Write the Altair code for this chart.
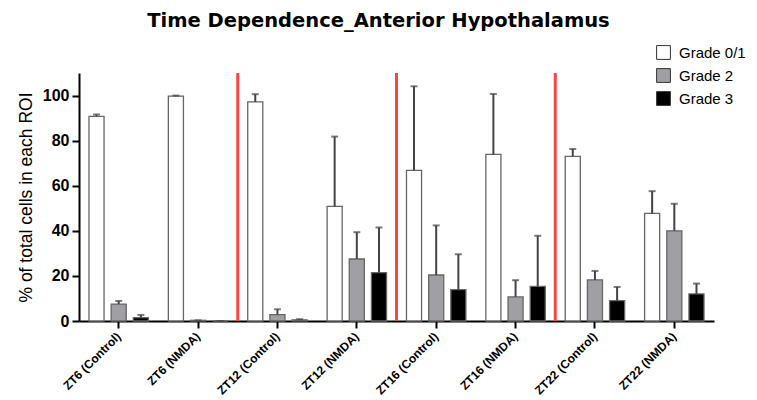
import altair as alt
import pandas as pd

groups = ["ZT6 (Control)", "ZT6 (NMDA)", "ZT12 (Control)", "ZT12 (NMDA)",
          "ZT16 (Control)", "ZT16 (NMDA)", "ZT22 (Control)", "ZT22 (NMDA)"]
grades = ["Grade 0/1", "Grade 2", "Grade 3"]

grade01 = [90.8, 99.7, 97.2, 50.8, 66.8, 73.9, 73.0, 47.7]
grade01_err = [0.8, 0.3, 3.4, 31.0, 37.3, 26.8, 3.3, 9.9]
grade2 = [7.5, 0.3, 2.8, 27.5, 20.4, 10.7, 18.2, 40.0]
grade2_err = [1.4, 0.0, 2.4, 11.9, 22.0, 7.4, 4.0, 12.0]
grade3 = [1.5, 0.0, 0.5, 21.5, 13.9, 15.4, 9.0, 12.0]
grade3_err = [1.2, 0.0, 0.3, 20.0, 15.7, 22.4, 6.1, 4.6]

dividers = ["ZT12 (Control)", "ZT16 (Control)", "ZT22 (Control)"]

rows = []
for i, g in enumerate(groups):
    for grade, vals, errs in [("Grade 0/1", grade01, grade01_err),
                              ("Grade 2", grade2, grade2_err),
                              ("Grade 3", grade3, grade3_err)]:
        rows.append(dict(group=g, grade=grade, value=vals[i], upper=vals[i] + errs[i]))
df = pd.DataFrame(rows)
div_df = pd.DataFrame({"group": dividers})

FONT = "Liberation Sans"

x = alt.X("group:N", sort=groups, title=None,
          scale=alt.Scale(paddingInner=0, paddingOuter=0),
          axis=alt.Axis(labelAngle=-45, labelAlign="right", labelBaseline="middle",
                        labelFontSize=12, labelFontWeight="bold", labelColor="black",
                        labelPadding=6, tickSize=7, tickWidth=2, tickColor="black",
                        domainColor="black", domainWidth=2, labelFont=FONT))
xoff = alt.XOffset("grade:N", sort=grades,
                   scale=alt.Scale(paddingInner=0.32, paddingOuter=0.45))
yscale = alt.Scale(domain=[0, 110])

bars = alt.Chart(df).mark_bar(stroke="#666", strokeWidth=1.3).encode(
    x=x, xOffset=xoff,
    y=alt.Y("value:Q", scale=yscale, title="% of total cells in each ROI",
            axis=alt.Axis(values=[0, 20, 40, 60, 80, 100], grid=False,
                          labelFontSize=16, labelFontWeight="bold", labelColor="black",
                          labelFont=FONT, titleFont=FONT, titleFontSize=17.5,
                          titleFontWeight="normal", titleColor="black", titlePadding=7,
                          tickSize=7, tickWidth=2, tickColor="black",
                          domainColor="black", domainWidth=2, labelPadding=3)),
    color=alt.Color("grade:N", sort=grades,
                    scale=alt.Scale(domain=grades, range=["#ffffff", "#a0a0a4", "#000000"]),
                    legend=alt.Legend(title=None, orient="none", legendX=577, legendY=-28,
                                      symbolType="square", symbolSize=190,
                                      symbolStrokeColor="#333", symbolStrokeWidth=1,
                                      labelFontSize=15, labelFont=FONT, labelColor="black",
                                      rowPadding=4, labelOffset=8)),
)

err = alt.Chart(df).mark_rule(color="#444", strokeWidth=2).encode(
    x=x, xOffset=xoff, y=alt.Y("value:Q", scale=yscale), y2="upper:Q")

caps = alt.Chart(df).mark_tick(color="#444", orient="horizontal", size=7, thickness=2).encode(
    x=x, xOffset=xoff, y=alt.Y("upper:Q", scale=yscale))

red = alt.Chart(div_df).mark_rule(color="#ff4444", strokeWidth=3).encode(
    x=alt.X("group:N", sort=groups, bandPosition=0))

chart = alt.layer(bars, err, caps, red).properties(
    width=635, height=248,
    title=alt.TitleParams("Time Dependence_Anterior Hypothalamus", font="DejaVu Sans",
                          fontSize=19.5, fontWeight="bold", color="black",
                          dx=-18, offset=14),
    autosize=alt.AutoSizeParams(type="none"),
    padding={"left": 71, "top": 65, "right": 35, "bottom": 79},
).configure_view(stroke=None)

chart.save("out.html", embed_options={"renderer": "svg", "actions": False})
